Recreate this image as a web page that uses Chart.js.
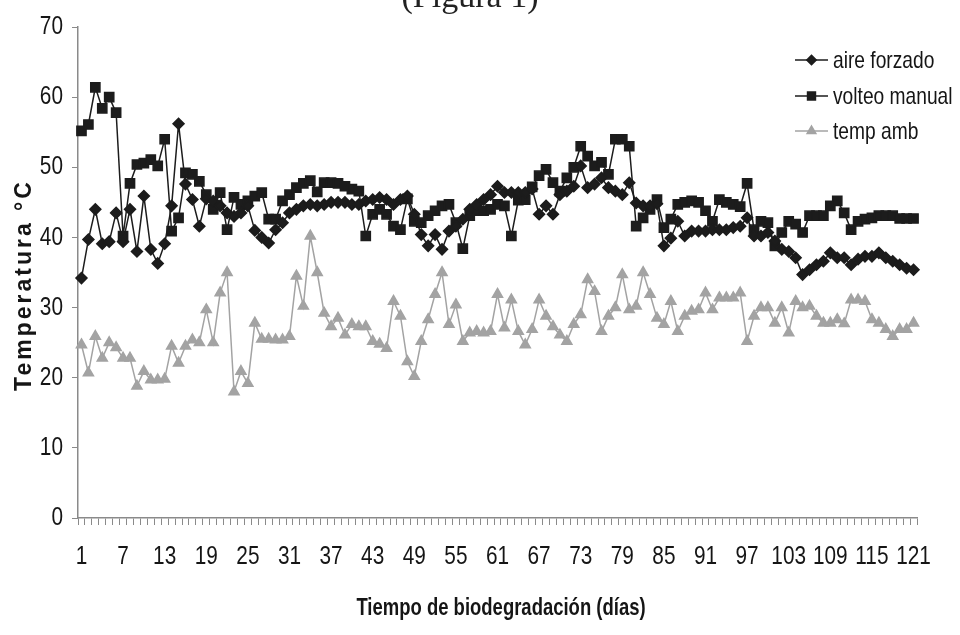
<!DOCTYPE html>
<html><head><meta charset="utf-8">
<script src="https://cdn.jsdelivr.net/npm/chart.js@4"></script>
<style>html,body{margin:0;padding:0;background:#fff}#wrap{width:960px;height:635px;position:relative}</style>
</head><body><div id="wrap"><canvas id="c" width="960" height="635"></canvas></div>
<script>
// ---- data ----
const days = [];
for (let d = 1; d <= 121; d++) days.push(String(d));
const tickLabels = ['1','7','13','19','25','31','37','43','49','55','61','67','73','79','85','91','97','103','109','115','121'];
const yTicks = [0, 10, 20, 30, 40, 50, 60, 70];
const seriesNames = ['aire forzado', 'volteo manual', 'temp amb'];

const aireForzado = [
34.2,39.7,44.0,39.1,39.4,43.5,39.4,44.0,38.0,45.9,
38.3,36.3,39.1,44.5,56.2,47.6,45.4,41.6,45.5,45.2,
44.5,43.5,43.0,43.5,44.5,41.0,40.0,39.2,41.1,42.1,
43.5,44.0,44.5,44.7,44.5,44.7,45.0,45.0,45.0,44.7,
44.7,45.2,45.4,45.7,45.4,44.7,45.4,45.9,43.3,40.4,
38.8,40.4,38.3,40.9,41.6,42.6,44.0,44.7,45.4,46.1,
47.3,46.4,46.4,46.4,46.4,46.9,43.3,44.5,43.3,46.1,
46.6,47.3,50.2,47.1,47.6,48.5,47.1,46.6,46.1,47.8,
44.9,44.5,44.5,44.8,38.8,39.9,42.3,40.2,40.9,40.9,
40.9,41.1,41.1,41.1,41.4,41.6,42.8,40.2,40.2,40.7,
39.5,38.3,38.0,37.1,34.7,35.4,36.1,36.6,37.8,37.1,
37.1,36.1,36.9,37.3,37.3,37.8,37.1,36.6,36.1,35.6,
35.4];

const volteoManual = [
55.2,56.1,61.4,58.4,60.0,57.8,40.2,47.7,50.4,50.6,
51.1,50.2,54.0,40.9,42.8,49.2,49.0,48.0,46.1,44.0,
46.4,41.1,45.7,44.7,45.2,45.9,46.4,42.6,42.6,45.2,
46.1,47.1,47.7,48.1,46.5,47.8,47.8,47.7,47.3,46.9,
46.6,40.2,43.3,44.0,43.3,41.6,41.1,45.5,42.3,42.1,
43.1,43.8,44.5,44.7,42.1,38.4,43.1,43.8,43.8,44.0,
44.7,44.5,40.2,45.3,45.4,47.2,48.8,49.7,47.8,46.6,
48.5,50.0,53.0,51.6,50.2,50.7,49.0,54.0,54.0,53.0,
41.6,42.8,44.0,45.4,41.4,42.6,44.7,45.0,45.2,45.0,
43.8,42.3,45.4,45.0,44.7,44.4,47.7,41.1,42.3,42.1,
38.8,40.7,42.3,41.9,40.7,43.1,43.1,43.1,44.5,45.2,
43.5,41.1,42.3,42.6,42.8,43.1,43.1,43.1,42.7,42.7,
42.7];

const tempAmb = [
24.7,20.7,25.9,22.8,25.0,24.3,22.8,22.8,18.8,20.9,
19.7,19.7,19.8,24.5,22.1,24.5,25.4,25.0,29.7,25.0,
32.1,35.0,18.0,20.9,19.2,27.8,25.5,25.5,25.4,25.4,
25.9,34.5,30.2,40.2,35.0,29.2,27.3,28.5,26.1,27.6,
27.3,27.3,25.2,24.8,24.2,30.9,28.8,22.3,20.2,25.2,
28.3,31.9,35.0,27.6,30.4,25.2,26.4,26.6,26.4,26.6,
31.9,27.1,31.1,26.6,24.7,26.9,31.1,28.8,27.3,26.1,
25.2,27.6,29.0,34.0,32.3,26.6,28.8,30.0,34.7,29.7,
30.2,35.0,31.9,28.5,27.6,30.9,26.6,28.8,29.5,29.7,
32.1,29.7,31.4,31.4,31.4,32.1,25.2,28.8,30.0,30.0,
27.8,30.0,26.4,30.9,30.0,30.2,28.8,27.8,27.8,28.3,
27.7,31.1,31.1,30.9,28.3,27.8,26.9,25.9,26.9,26.9,
27.8];

// ---- styling ----
const SANS = "'Liberation Sans',Arial,sans-serif";
const DARK = '#1c1c1c';
const GREY = '#a3a3a3';
const AXIS = '#8a8a8a';
const TEXT = '#151515';
const CONDENSE = 0.8;

// draw condensed text (narrow face look)
function narrowText(ctx, str, x, y, font, align, sx) {
  ctx.save();
  ctx.font = font;
  ctx.textBaseline = 'middle';
  ctx.textAlign = align;
  ctx.translate(x, y);
  ctx.scale(sx, 1);
  ctx.fillText(str, 0, 0);
  ctx.restore();
}

const textPlugin = {
  id: 'textPlugin',
  afterDraw(chart) {
    const ctx = chart.ctx;
    const xs = chart.scales.x, ys = chart.scales.y;
    ctx.save();
    ctx.fillStyle = TEXT;
    // x tick labels
    xs.ticks.forEach((t, i) => {
      const lab = days[i];
      if (tickLabels.includes(lab)) {
        narrowText(ctx, lab, xs.getPixelForTick(i), 557, '26px ' + SANS, 'center', CONDENSE);
      }
    });
    // y tick labels
    yTicks.forEach(v => {
      narrowText(ctx, String(v), 63, ys.getPixelForValue(v), '26px ' + SANS, 'right', CONDENSE);
    });
    // legend
    const rows = [60, 96, 131];
    chart.data.datasets.forEach((ds, i) => {
      const y = rows[i];
      ctx.strokeStyle = ds.borderColor;
      ctx.lineWidth = 1.6;
      ctx.beginPath(); ctx.moveTo(795, y); ctx.lineTo(828, y); ctx.stroke();
      ctx.fillStyle = ds.pointBackgroundColor;
      ctx.strokeStyle = ds.pointBackgroundColor;
      Chart.helpers.drawPoint(ctx, {pointStyle: ds.pointStyle, radius: ds.pointRadius * 0.85, borderWidth: 1}, 811.5, y);
      ctx.fillStyle = TEXT;
      narrowText(ctx, seriesNames[i], 833, y + 1, '24px ' + SANS, 'left', CONDENSE);
    });
    // axis titles
    ctx.fillStyle = TEXT;
    narrowText(ctx, 'Tiempo de biodegradación (días)', 501, 608, 'bold 24px ' + SANS, 'center', 0.77);
    ctx.save();
    ctx.translate(25, 287);
    ctx.rotate(-Math.PI / 2);
    ctx.font = 'bold 23px ' + SANS;
    ctx.textAlign = 'center';
    ctx.textBaseline = 'middle';
    try { ctx.letterSpacing = '3px'; } catch (e) {}
    ctx.fillText('Temperatura °C', 2, 0);
    ctx.restore();
    // clipped figure caption at top
    ctx.font = '34px "Liberation Serif","Times New Roman",serif';
    ctx.textAlign = 'center';
    ctx.textBaseline = 'alphabetic';
    ctx.fillStyle = '#222';
    ctx.fillText('(Figura 1)', 470, 7);
    ctx.restore();
  }
};

new Chart(document.getElementById('c'), {
  type: 'line',
  data: {
    labels: days,
    datasets: [
      { label: seriesNames[0], data: aireForzado, borderColor: DARK, backgroundColor: DARK,
        pointBackgroundColor: DARK, pointBorderColor: DARK, pointStyle: 'rectRot', pointRadius: 5.5,
        borderWidth: 1.5, tension: 0, fill: false },
      { label: seriesNames[1], data: volteoManual, borderColor: DARK, backgroundColor: DARK,
        pointBackgroundColor: DARK, pointBorderColor: DARK, pointStyle: 'rect', pointRadius: 6.5,
        borderWidth: 1.5, tension: 0, fill: false },
      { label: seriesNames[2], data: tempAmb, borderColor: GREY, backgroundColor: GREY,
        pointBackgroundColor: GREY, pointBorderColor: GREY, pointStyle: 'triangle', pointRadius: 5.8,
        borderWidth: 1.5, tension: 0, fill: false }
    ]
  },
  options: {
    responsive: false,
    animation: false,
    devicePixelRatio: 1,
    layout: { padding: { left: 0, right: 43, top: 27, bottom: 0 } },
    plugins: { legend: { display: false }, tooltip: { enabled: false }, title: { display: false } },
    scales: {
      x: {
        type: 'category',
        offset: true,
        grid: { offset: true, drawOnChartArea: false, drawTicks: true, tickLength: 7, color: AXIS, lineWidth: 1 },
        border: { display: true, color: AXIS, width: 1.5 },
        ticks: { display: false, autoSkip: false, maxRotation: 0, minRotation: 0 },
        afterFit(s) { s.height = 117; }
      },
      y: {
        min: 0, max: 70,
        grid: { drawOnChartArea: false, drawTicks: true, tickLength: 6, color: AXIS },
        border: { display: true, color: AXIS, width: 1.5 },
        ticks: { display: false, stepSize: 10 },
        afterFit(s) { s.width = 78; }
      }
    }
  },
  plugins: [textPlugin]
});
</script>
</body></html>
